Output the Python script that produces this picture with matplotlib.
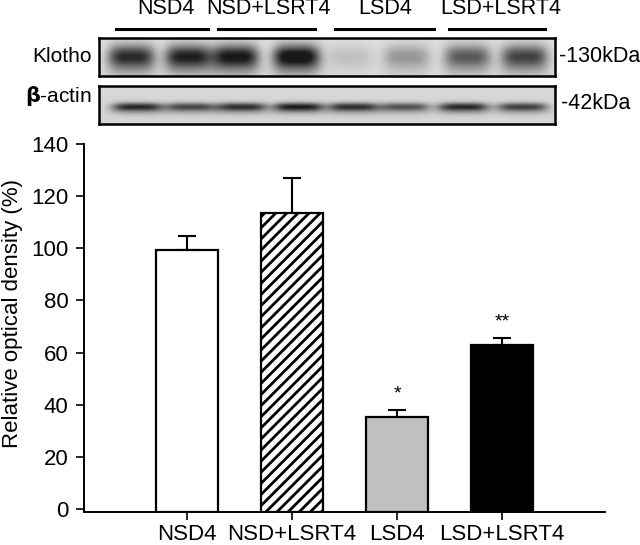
import numpy as np
import matplotlib
matplotlib.use("Agg")
import matplotlib.pyplot as plt

plt.rcParams['font.family'] = ['Liberation Sans', 'DejaVu Sans']
plt.rcParams['hatch.linewidth'] = 2.0

W, H = 640, 545
categories = ['NSD4', 'NSD+LSRT4', 'LSD4', 'LSD+LSRT4']
values = [99.5, 113.5, 35.3, 62.8]
errors = [5.2, 13.5, 2.7, 2.8]
stars = ['', '', '*', '**']
fills = ['white', 'white', '#c0c0c0', 'black']
hatches = ['', '///', '', '']
yticks = [0, 20, 40, 60, 80, 100, 120, 140]

klotho_lanes = [131, 188, 235, 296, 349, 406, 467, 524]
klotho_dark = [0.60, 0.64, 0.68, 0.74, 0.10, 0.24, 0.44, 0.52]
actin_lanes = [137, 190, 241, 298, 353, 404, 463, 522]
actin_dark = [0.58, 0.48, 0.56, 0.62, 0.56, 0.44, 0.58, 0.50]


def pax(x0, y0, x1, y1, **kw):
    return fig.add_axes([x0 / W, 1 - y1 / H, (x1 - x0) / W, (y1 - y0) / H], **kw)


def blot(ax, x0, x1, h, lanes, dark, bg, sx, sy, cy):
    xs = np.arange(x0, x1)[None, :]
    ys = np.arange(h)[:, None]
    img = np.full((h, x1 - x0), bg, dtype=float)
    for c, d in zip(lanes, dark):
        core = np.exp(-(np.abs(xs - c) / sx) ** 4) * np.exp(-((ys - cy) / sy) ** 2)
        smear = 0.35 * np.exp(-(np.abs(xs - c) / (sx * 1.1)) ** 4) * np.exp(-((ys - cy - sy) / (sy * 1.2)) ** 2)
        img -= d * (core + smear)
    ax.imshow(np.clip(img, 0.1, 1), cmap='gray', vmin=0, vmax=1, aspect='auto', interpolation='bilinear')
    ax.set_xticks([])
    ax.set_yticks([])
    for s in ax.spines.values():
        s.set_linewidth(1.8)


fig = plt.figure(figsize=(W / 100, H / 100), dpi=100)

# bar panel
ax = pax(84, 144, 605, 512)
y_bottom = -3 / 2.607
ax.set_ylim(y_bottom, 140)
ax.set_xlim(-0.98, 3.98)
pos = np.arange(len(categories))
for i, (v, e, f, h, st) in enumerate(zip(values, errors, fills, hatches, stars)):
    ax.errorbar(i, v, yerr=[[0], [e]], color='black', lw=1.5, capsize=6.5, capthick=1.5, zorder=2)
    ax.bar(i, v - y_bottom, 0.59, bottom=y_bottom, facecolor=f, edgecolor='black',
           hatch=h, lw=1.6, zorder=3)
    if st:
        ax.text(i, v + e + 6, st, ha='center', va='center', fontsize=14)
ax.spines[['top', 'right']].set_visible(False)
ax.spines[['left', 'bottom']].set_linewidth(1.4)
ax.set_xticks(pos, categories, fontsize=16)
ax.set_yticks(yticks, [str(t) for t in yticks], fontsize=16)
ax.tick_params(axis='x', length=6, width=1.2, pad=3)
ax.tick_params(axis='y', length=6, width=1.2, pad=5)
ax.set_ylabel('Relative optical density (%)', fontsize=16, labelpad=6, y=0.54)

# blots
a1 = pax(99, 38, 555, 76)
blot(a1, 99, 555, 38, klotho_lanes, klotho_dark, 0.87, 23, 11, 17)
a2 = pax(99, 86, 555, 124)
blot(a2, 99, 555, 38, actin_lanes, actin_dark, 0.84, 25, 4, 20)

# blot annotations
header_x = [166, 268, 385, 501]
for name, x in zip(categories, header_x):
    fig.text(x / W, 1 - 9 / H, name, ha='center', va='center', fontsize=15.5)
for x0, x1 in [(116, 208), (218, 315), (335, 434), (449, 545)]:
    fig.add_artist(plt.Line2D([x0 / W, x1 / W], [1 - 29 / H] * 2, color='black', lw=2.2))
fig.text(92 / W, 1 - 57 / H, 'Klotho', ha='right', va='center', fontsize=15)
fig.text(92 / W, 1 - 96 / H, r'$\mathbf{\beta}$-actin', ha='right', va='center', fontsize=15)
fig.text(559 / W, 1 - 56 / H, '-130kDa', ha='left', va='center', fontsize=15.5)
fig.text(561 / W, 1 - 103 / H, '-42kDa', ha='left', va='center', fontsize=15.5)

fig.savefig('out.png', dpi=100)
